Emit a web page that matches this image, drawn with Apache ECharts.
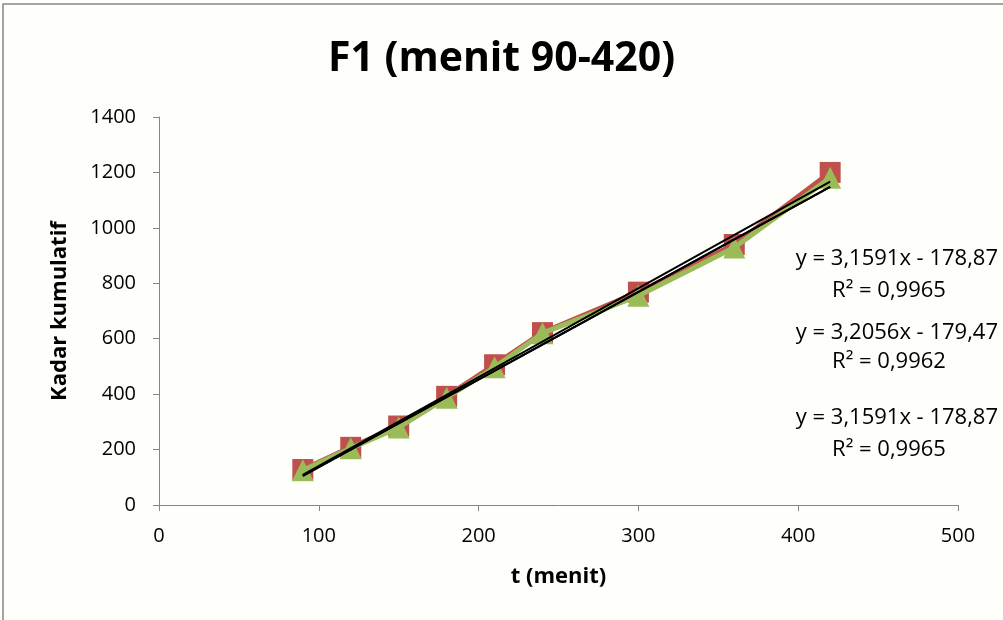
<!DOCTYPE html>
<html>
<head>
<meta charset="utf-8">
<script src="https://cdn.jsdelivr.net/npm/echarts@6/dist/echarts.min.js"></script>
<style>
  html, body { margin: 0; padding: 0; background: #ffffff; }
  #chart { width: 1003px; height: 620px; }
</style>
</head>
<body>
<div id="chart"></div>
<script>
// Sampling times (menit)
var times = [90, 120, 150, 180, 210, 240, 300, 360, 420];
// Cumulative content per replicate
var seriesBlue  = [125, 205, 280, 387, 497, 620, 755, 929, 1181];
var seriesRed   = [128, 208, 285, 392, 506, 622, 768, 940, 1200];
var seriesGreen = [125, 205, 280, 387, 497, 620, 755, 929, 1181];
// Linear trendline coefficients [slope, intercept] and R²
var trendBlue  = [3.1591, -178.87, 0.9965];
var trendRed   = [3.2056, -179.47, 0.9962];
var trendGreen = [3.1591, -178.87, 0.9965];
// Axis ticks
var xTicks = [0, 100, 200, 300, 400, 500];
var yTicks = [0, 200, 400, 600, 800, 1000, 1200, 1400];

var FONT = "'Open Sans', 'Noto Sans', sans-serif";

function pairs(xs, ys) {
  return xs.map(function (x, i) { return [x, ys[i]]; });
}
function trendPoints(c) {
  var x0 = times[0], x1 = times[times.length - 1];
  return [[x0, c[0] * x0 + c[1]], [x1, c[0] * x1 + c[1]]];
}
function fmt(v, d) {
  return v.toFixed(d).replace('.', ',');
}
function eqText(c) {
  var sign = c[1] < 0 ? ' - ' : ' + ';
  return 'y = ' + fmt(c[0], 4) + 'x' + sign + fmt(Math.abs(c[1]), 2);
}
function r2Text(c) {
  return 'R\u00b2 = ' + fmt(c[2], 4);
}

var chart = echarts.init(document.getElementById('chart'), null, { renderer: 'canvas' });

// Trendline equation blocks on the right: [coefficients, equation y, R² y]
var eqBlocks = [
  { c: trendGreen, y1: 259, y2: 291 },
  { c: trendRed, y1: 333, y2: 362 },
  { c: trendBlue, y1: 418, y2: 450 }
];
var graphics = [
  {
    type: 'rect', x: 3, y: 4, silent: true,
    shape: { width: 1010, height: 630 },
    style: { fill: 'none', stroke: '#868686', lineWidth: 1.5 }
  }
];
eqBlocks.forEach(function (b) {
  graphics.push({
    type: 'text', x: 998, y: b.y1, silent: true,
    style: { text: eqText(b.c), font: '22px ' + FONT, fill: '#000',
             textAlign: 'right', textVerticalAlign: 'middle' }
  });
  graphics.push({
    type: 'text', x: 889, y: b.y2, silent: true,
    style: { text: r2Text(b.c), font: '22px ' + FONT, fill: '#000',
             textAlign: 'center', textVerticalAlign: 'middle' }
  });
});

var option = {
  backgroundColor: '#fefefb',
  animation: false,
  title: {
    text: 'F1 (menit 90-420)',
    left: 'center',
    top: 34,
    textStyle: { fontFamily: FONT, fontSize: 41, fontWeight: 'bold', color: '#000' }
  },
  grid: { left: 159, right: 45, top: 117, bottom: 115 },
  xAxis: {
    type: 'value', min: 0, max: 500, interval: 100,
    name: 't (menit)', nameLocation: 'middle', nameGap: 61,
    nameTextStyle: { fontFamily: FONT, fontSize: 22, fontWeight: 'bold', color: '#000' },
    axisLine: { show: true, lineStyle: { color: '#868686', width: 1 } },
    axisTick: { show: true, length: 6, lineStyle: { color: '#868686' } },
    axisLabel: {
      margin: 21, fontFamily: FONT, fontSize: 20, color: '#000',
      formatter: function (v) { return xTicks.indexOf(v) >= 0 ? String(v) : ''; }
    },
    splitLine: { show: false }
  },
  yAxis: {
    type: 'value', min: 0, max: 1400, interval: 200,
    name: 'Kadar kumulatif', nameLocation: 'middle', nameGap: 88, nameRotate: 90,
    nameTextStyle: { fontFamily: FONT, fontSize: 22, fontWeight: 'bold', color: '#000' },
    axisLine: { show: true, lineStyle: { color: '#868686', width: 1 } },
    axisTick: { show: true, length: 6, lineStyle: { color: '#868686' } },
    axisLabel: {
      margin: 23, fontFamily: FONT, fontSize: 20, color: '#000',
      formatter: function (v) { return yTicks.indexOf(v) >= 0 ? String(v) : ''; }
    },
    splitLine: { show: false }
  },
  graphic: graphics,
  series: [
    {
      name: 'Replikasi 1', type: 'line', data: pairs(times, seriesBlue),
      symbol: 'diamond', symbolSize: 20,
      lineStyle: { color: '#4F81BD', width: 4 },
      itemStyle: { color: '#4F81BD' }, z: 2
    },
    {
      name: 'Replikasi 2', type: 'line', data: pairs(times, seriesRed),
      symbol: 'rect', symbolSize: 21,
      lineStyle: { color: '#C0504D', width: 5 },
      itemStyle: { color: '#C0504D' }, z: 3
    },
    {
      name: 'Replikasi 3', type: 'line', data: pairs(times, seriesGreen),
      symbol: 'triangle', symbolSize: 22,
      lineStyle: { color: '#9BBB59', width: 5 },
      itemStyle: { color: '#9BBB59' }, z: 4
    },
    {
      name: 'Linear 1', type: 'line', data: trendPoints(trendBlue),
      symbol: 'none', lineStyle: { color: '#000', width: 2 }, z: 5
    },
    {
      name: 'Linear 2', type: 'line', data: trendPoints(trendRed),
      symbol: 'none', lineStyle: { color: '#000', width: 2 }, z: 5
    },
    {
      name: 'Linear 3', type: 'line', data: trendPoints(trendGreen),
      symbol: 'none', lineStyle: { color: '#000', width: 2 }, z: 5
    }
  ]
};

chart.setOption(option);
</script>
</body>
</html>
